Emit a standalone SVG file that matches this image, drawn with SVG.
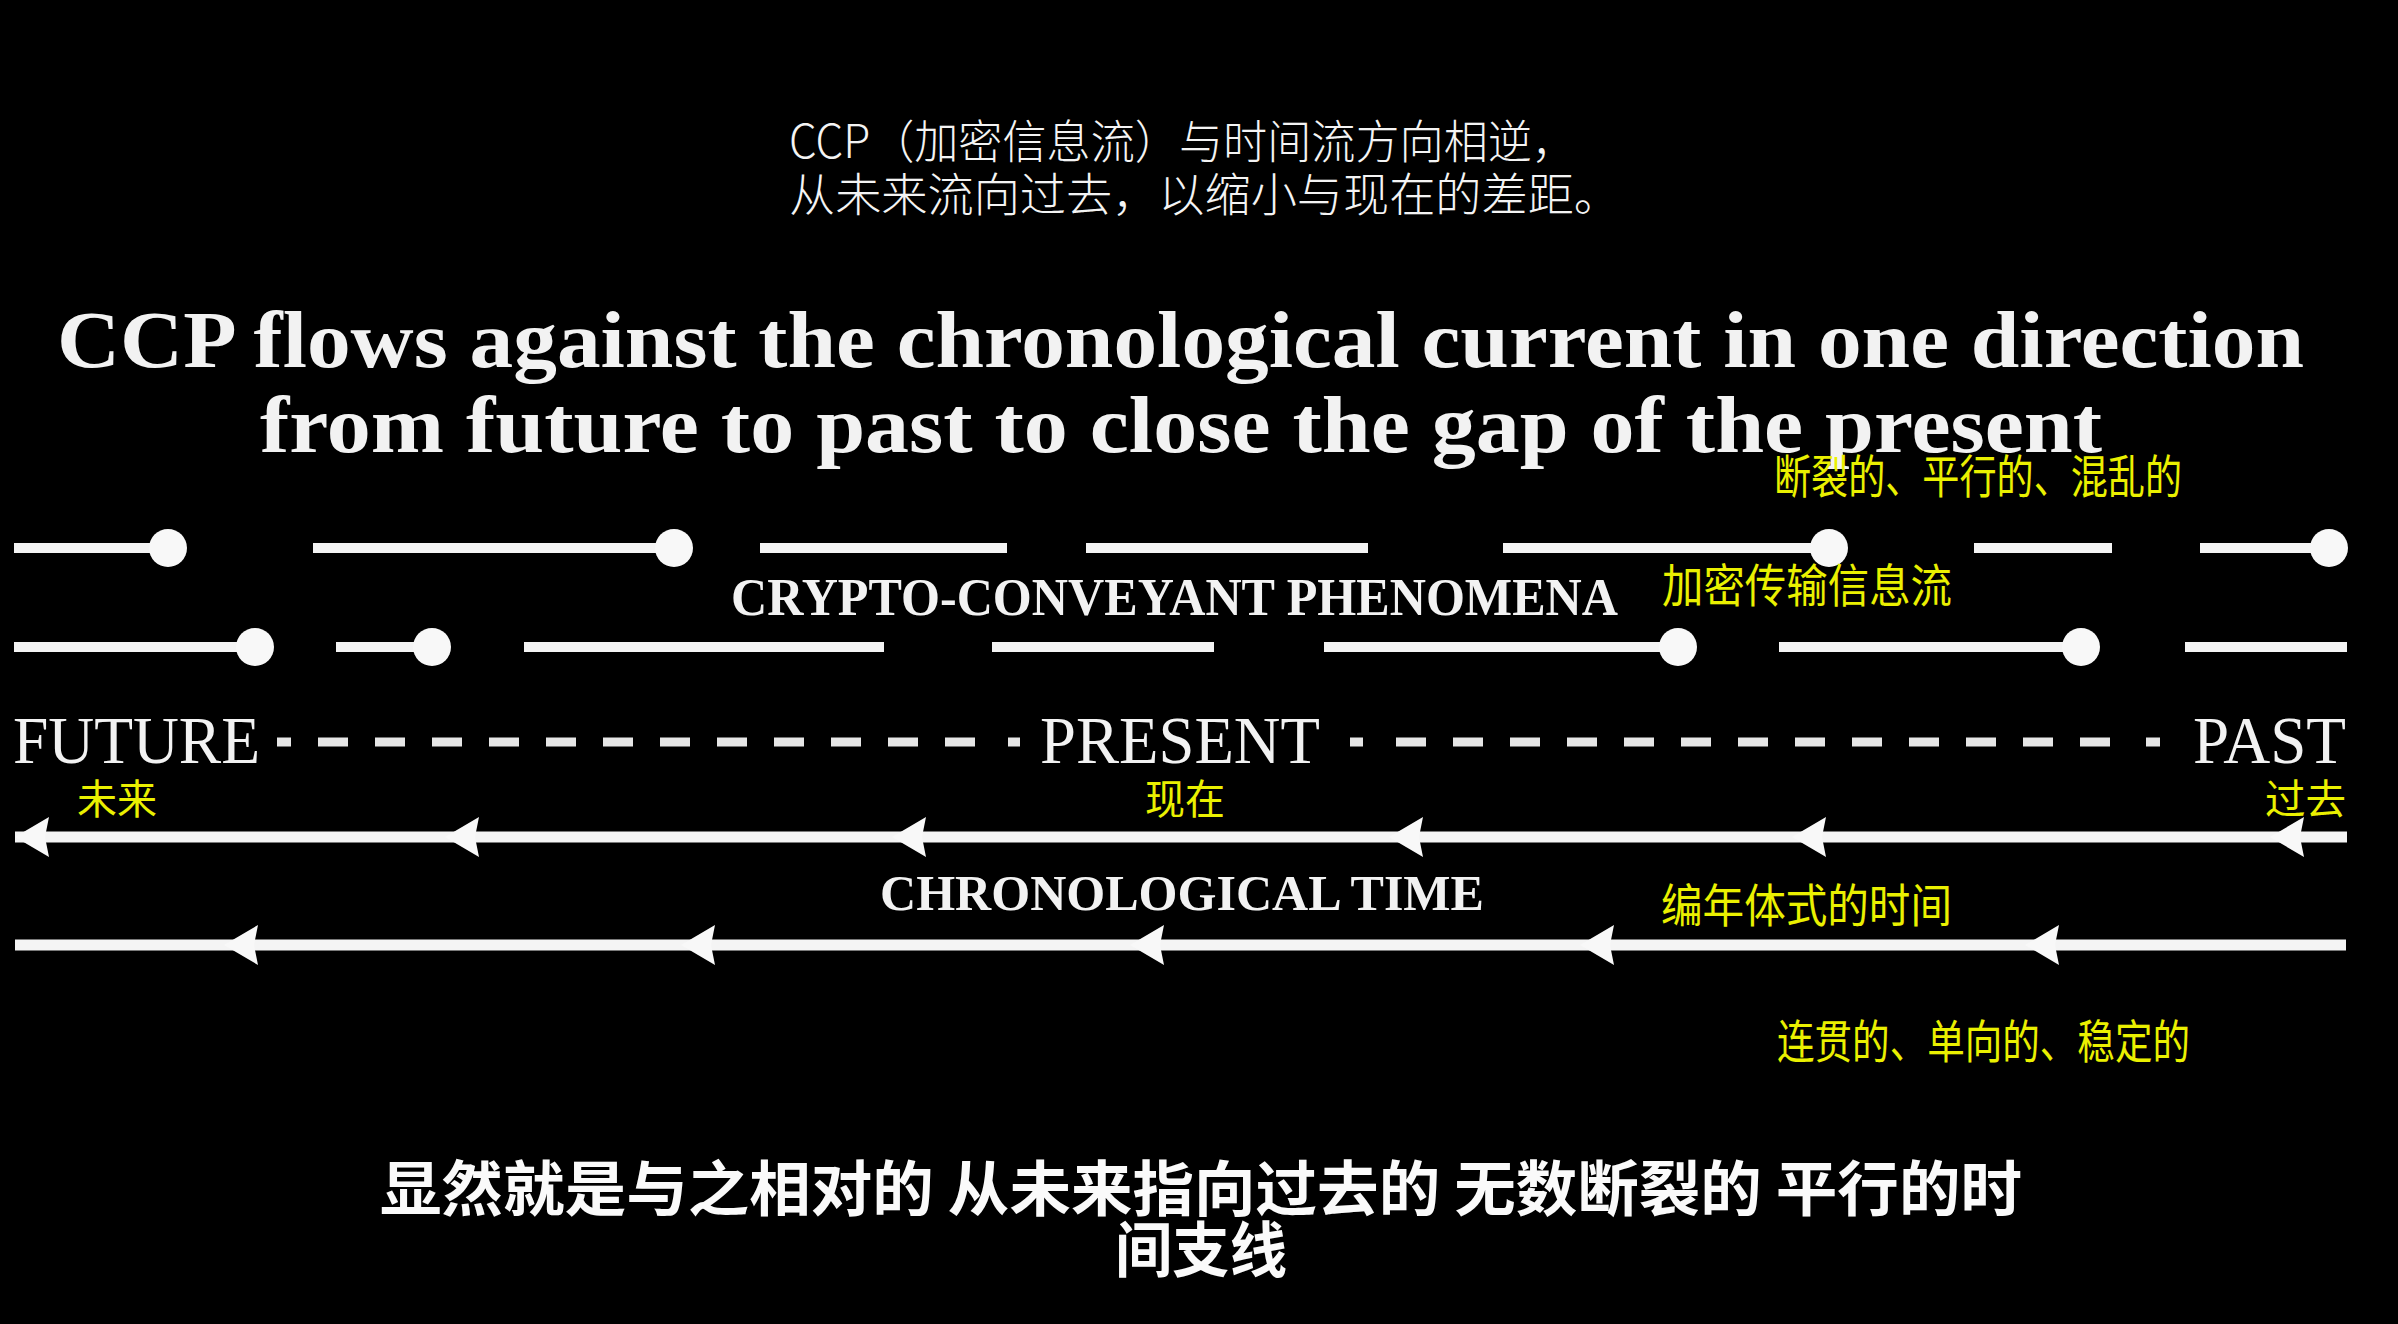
<svg xmlns="http://www.w3.org/2000/svg" width="2398" height="1324" viewBox="0 0 2398 1324">
<defs>
<style>
.en{font-family:"Liberation Serif","Times New Roman",serif;fill:#f2f2f2}
.b{font-weight:bold}
.zh{font-family:"Noto Sans CJK SC","Noto Sans",sans-serif}
.yl{font-family:"Noto Sans CJK SC","Noto Sans",sans-serif;fill:#eaf000;font-size:46px}
.ys{font-size:41px}
.seg{stroke:#f4f4f4;stroke-width:10;fill:none}
.dot{fill:#f8f8f8}
.dash{stroke:#e6e6e6;stroke-width:9;fill:none}
.arr{stroke:#f4f4f4;stroke-width:11;fill:none}
</style>
<marker id="ah" markerUnits="userSpaceOnUse" orient="auto" overflow="visible" markerWidth="40" markerHeight="40" refX="0" refY="0">
<path d="M0,0 L-34,-20 L-30,0 L-34,20 Z" fill="#f8f8f8"/>
</marker>
</defs>
<rect width="2398" height="1324" fill="#000"/>

<g id="subtitle-top">
<text class="zh" x="789" y="158" font-size="46" font-weight="300" fill="#f4f4f4" textLength="787" lengthAdjust="spacingAndGlyphs">CCP（加密信息流）与时间流方向相逆，</text>
<text class="zh" x="789" y="211" font-size="46" font-weight="300" fill="#f4f4f4" textLength="831" lengthAdjust="spacingAndGlyphs">从未来流向过去，以缩小与现在的差距。</text>
</g>

<g id="title">
<text class="en b" x="57" y="367" font-size="80" textLength="2247" lengthAdjust="spacingAndGlyphs">CCP flows against the chronological current in one direction</text>
<text class="en b" x="260" y="452" font-size="80" textLength="1842" lengthAdjust="spacingAndGlyphs">from future to past to close the gap of the present</text>
</g>

<g id="connectors">
<g id="ccp-row1">
<line class="seg" x1="14" y1="548" x2="168" y2="548"/><circle class="dot" cx="168" cy="548" r="19"/>
<line class="seg" x1="313" y1="548" x2="674" y2="548"/><circle class="dot" cx="674" cy="548" r="19"/>
<line class="seg" x1="760" y1="548" x2="1007" y2="548"/>
<line class="seg" x1="1086" y1="548" x2="1368" y2="548"/>
<line class="seg" x1="1503" y1="548" x2="1829" y2="548"/><circle class="dot" cx="1829" cy="548" r="19"/>
<line class="seg" x1="1974" y1="548" x2="2112" y2="548"/>
<line class="seg" x1="2200" y1="548" x2="2329" y2="548"/><circle class="dot" cx="2329" cy="548" r="19"/>
</g>
<g id="ccp-row2">
<line class="seg" x1="14" y1="647" x2="255" y2="647"/><circle class="dot" cx="255" cy="647" r="19"/>
<line class="seg" x1="336" y1="647" x2="432" y2="647"/><circle class="dot" cx="432" cy="647" r="19"/>
<line class="seg" x1="524" y1="647" x2="884" y2="647"/>
<line class="seg" x1="992" y1="647" x2="1214" y2="647"/>
<line class="seg" x1="1324" y1="647" x2="1678" y2="647"/><circle class="dot" cx="1678" cy="647" r="19"/>
<line class="seg" x1="1779" y1="647" x2="2081" y2="647"/><circle class="dot" cx="2081" cy="647" r="19"/>
<line class="seg" x1="2185" y1="647" x2="2347" y2="647"/>
</g>
<g id="dashes">
<line class="dash" x1="277" y1="742" x2="291" y2="742"/>
<line class="dash" x1="318" y1="742" x2="980" y2="742" stroke-dasharray="30 27"/>
<line class="dash" x1="1008" y1="742" x2="1020" y2="742"/>
<line class="dash" x1="1350" y1="742" x2="1363" y2="742"/>
<line class="dash" x1="1396" y1="742" x2="2112" y2="742" stroke-dasharray="30 27"/>
<line class="dash" x1="2146" y1="742" x2="2160" y2="742"/>
</g>
<polyline id="chrono-row1" class="arr" points="2347,837 2270,837 1792,837 1389,837 892,837 445,837 15,837" marker-mid="url(#ah)" marker-end="url(#ah)"/>
<polyline id="chrono-row2" class="arr" points="2346,945 2025,945 1580,945 1130,945 681,945 224,945 15,945" marker-mid="url(#ah)"/>
</g>

<g id="label-ccp">
<text class="en b" x="731" y="615" font-size="52" textLength="887" lengthAdjust="spacingAndGlyphs">CRYPTO-CONVEYANT PHENOMENA</text>
</g>
<g id="label-future"><text class="en" x="13" y="763" font-size="67" textLength="247" lengthAdjust="spacingAndGlyphs">FUTURE</text></g>
<g id="label-present"><text class="en" x="1040" y="763" font-size="67" textLength="280" lengthAdjust="spacingAndGlyphs">PRESENT</text></g>
<g id="label-past"><text class="en" x="2193" y="763" font-size="67" textLength="153" lengthAdjust="spacingAndGlyphs">PAST</text></g>
<g id="label-chrono">
<text class="en b" x="880" y="910" font-size="50" textLength="604" lengthAdjust="spacingAndGlyphs">CHRONOLOGICAL TIME</text>
</g>

<g id="yellow-labels">
<text class="yl" x="1774" y="493" textLength="408" lengthAdjust="spacingAndGlyphs">断裂的、平行的、混乱的</text>
<text class="yl" x="1662" y="602" textLength="290" lengthAdjust="spacingAndGlyphs">加密传输信息流</text>
<text class="yl ys" x="77" y="814" textLength="80" lengthAdjust="spacingAndGlyphs">未来</text>
<text class="yl ys" x="1145" y="814" textLength="80" lengthAdjust="spacingAndGlyphs">现在</text>
<text class="yl ys" x="2265" y="814" textLength="81" lengthAdjust="spacingAndGlyphs">过去</text>
<text class="yl" x="1661" y="922" textLength="291" lengthAdjust="spacingAndGlyphs">编年体式的时间</text>
<text class="yl" x="1777" y="1058" textLength="413" lengthAdjust="spacingAndGlyphs">连贯的、单向的、稳定的</text>
</g>

<g id="subtitle-bottom">
<text class="zh" x="380" y="1211" font-size="60" font-weight="bold" fill="#fafafa" textLength="1642" lengthAdjust="spacingAndGlyphs">显然就是与之相对的 从未来指向过去的 无数断裂的 平行的时</text>
<text class="zh" x="1115" y="1272" font-size="60" font-weight="bold" fill="#fafafa" textLength="172" lengthAdjust="spacingAndGlyphs">间支线</text>
</g>
</svg>
